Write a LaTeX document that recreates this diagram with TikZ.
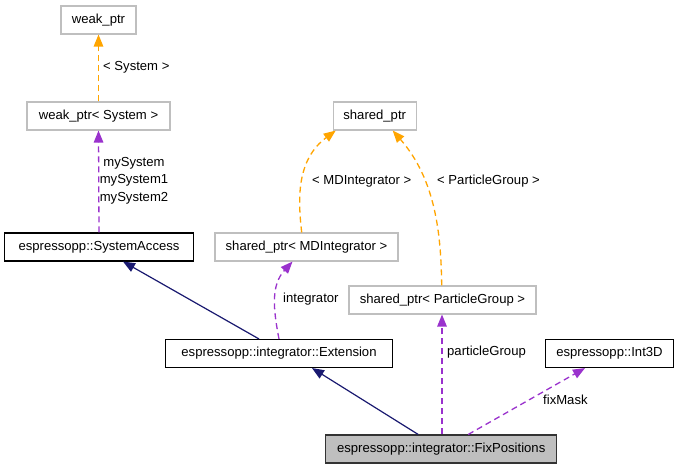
\documentclass[tikz,border=0pt]{standalone}
\usepackage{fontspec}
\setmainfont{Liberation Sans}
\usetikzlibrary{arrows.meta,calc}
\definecolor{dxorange}{HTML}{FFA500}
\definecolor{dxpurple}{HTML}{9A32CD}
\definecolor{dxnavy}{HTML}{191970}
\definecolor{dxgray}{HTML}{BFBFBF}
\begin{document}
\begin{tikzpicture}[x=1pt,y=-1pt,
  every node/.style={font=\fontsize{13.1}{17.5}\selectfont, inner sep=0pt},
  box/.style={draw=black, line width=1.1pt, minimum height=28pt, fill=white},
  extbox/.style={draw=dxgray, line width=1.1pt, minimum height=28pt, fill=white},
  mainbox/.style={draw=black!80, line width=1.1pt, minimum height=28pt, fill=dxgray},
  lbl/.style={anchor=west},
  tip/.style={-{Triangle[length=12pt,width=9.5pt]}},
  tmpl/.style={draw=dxorange, line width=1.3pt, dash pattern=on 6pt off 4pt, tip},
  uses/.style={draw=dxpurple, line width=1.3pt, dash pattern=on 6pt off 4pt, tip},
  inherit/.style={draw=dxnavy, line width=1.2pt, tip}
]
\useasboundingbox (0,0) rectangle (680,469);
\fill[white] (0,0) rectangle (680,469);

\node[extbox, minimum width=75pt] (wp) at (98.5,20) {weak\_ptr};
\node[extbox, minimum width=143pt] (wps) at (98.5,116) {weak\_ptr< System >};
\node[box, minimum width=188.5pt] (sa) at (99,247) {espressopp::SystemAccess};
\node[extbox, minimum width=83pt] (sp) at (374.7,116) {shared\_ptr};
\node[extbox, minimum width=183pt] (spmd) at (306.5,247) {shared\_ptr< MDIntegrator >};
\node[extbox, minimum width=187pt] (sppg) at (442.5,300) {shared\_ptr< ParticleGroup >};
\node[box, minimum width=227pt] (ext) at (279,353.5) {espressopp::integrator::Extension};
\node[box, minimum width=128pt] (int3d) at (609.5,353.5) {espressopp::Int3D};
\node[mainbox, minimum width=231pt] (fix) at (441.2,449) {espressopp::integrator::FixPositions};

% template instantiations
\draw[tmpl] (wps.north) -- (wp.south);
\node[lbl] (lsys) at (103,67) {< System >};

\draw[tmpl] ($(spmd.north)+(-4.8,0)$) .. controls (298,200) and (296,160) .. ($(sp.south)+(-39,0)$);
\node[lbl] (lmd) at (312,181) {< MDIntegrator >};

\draw[tmpl] ($(sppg.north)+(-0.8,0)$) .. controls (441,235) and (436,180) .. ($(sp.south)+(18,0)$);
\node[lbl] (lpg) at (437,181) {< ParticleGroup >};

% usage
\draw[uses] (sa.north) -- (wps.south);
\node[align=center] (lmys) at (134,180.5) {mySystem\\mySystem1\\mySystem2};

\draw[uses] (ext.north) .. controls (273,308) and (271,285) .. ($(spmd.south)+(-14,0)$);
\node[lbl] (lint) at (283,299) {integrator};

\draw[uses] ($(fix.north)+(0.8,0)$) -- ($(sppg.south)+(-0.5,0)$);
\node[lbl] (lpgv) at (447,352) {particleGroup};

\draw[uses] ($(fix.north)+(27,0)$) -- ($(int3d.south)+(-24.5,0)$);
\node[lbl] (lfm) at (543,400) {fixMask};

% inheritance
\draw[inherit] ($(ext.north)+(-20,0)$) -- ($(sa.south)+(24,0)$);
\draw[inherit] ($(fix.north)+(-23,0)$) -- ($(ext.south)+(33,0)$);
\end{tikzpicture}
\end{document}
